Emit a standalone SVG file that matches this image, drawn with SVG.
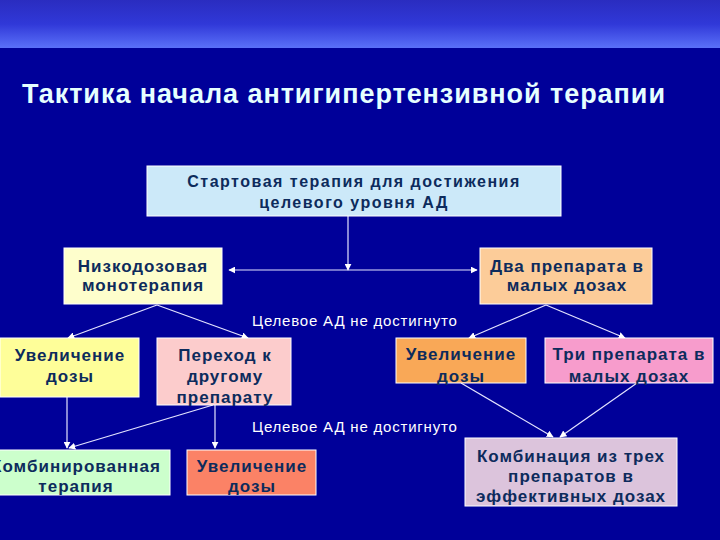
<svg xmlns="http://www.w3.org/2000/svg" width="720" height="540" viewBox="0 0 720 540">
<defs>
<linearGradient id="band" x1="0" y1="0" x2="0" y2="1">
<stop offset="0" stop-color="#2a2cc0"/>
<stop offset="0.5" stop-color="#3038d8"/>
<stop offset="1" stop-color="#5a70f8"/>
</linearGradient>
<marker id="ah" viewBox="0 0 10 10" refX="9" refY="5" markerWidth="7" markerHeight="7" markerUnits="userSpaceOnUse" orient="auto-start-reverse">
<path d="M0,0 L10,5 L0,10 z" fill="#ffffff"/>
</marker>
<style>
.box{stroke:#ffffff;stroke-width:1}
.t{font-family:"Liberation Sans",Arial,sans-serif;font-weight:bold;font-size:17px;letter-spacing:1px;fill:#0d2b5c;text-anchor:middle}
.lbl{font-family:"Liberation Sans",Arial,sans-serif;font-size:15px;letter-spacing:0.8px;fill:#ffffff}
.c{stroke:#e4e4ff;stroke-width:1.2;fill:none;marker-end:url(#ah)}
</style>
</defs>
<rect x="0" y="0" width="720" height="540" fill="#000099"/>
<rect x="0" y="0" width="720" height="48" fill="url(#band)"/>
<text x="22" y="103" font-family="'Liberation Sans',Arial,sans-serif" font-weight="bold" font-size="27px" letter-spacing="0.95px" fill="#e6ffff">Тактика начала антигипертензивной терапии</text>

<g id="connectors">
<line class="c" x1="348" y1="216" x2="348" y2="270"/>
<line class="c" x1="348" y1="270" x2="229" y2="270"/>
<line class="c" x1="348" y1="270" x2="477" y2="270"/>
<line class="c" x1="157" y1="305" x2="68" y2="338"/>
<line class="c" x1="157" y1="305" x2="248" y2="338"/>
<line class="c" x1="546" y1="305" x2="469" y2="338"/>
<line class="c" x1="546" y1="305" x2="625" y2="338"/>
<line class="c" x1="67" y1="397" x2="67" y2="448"/>
<line class="c" x1="213" y1="405" x2="69" y2="448"/>
<line class="c" x1="215" y1="405" x2="215" y2="448"/>
<line class="c" x1="461" y1="383" x2="553" y2="437"/>
<line class="c" x1="637" y1="383" x2="560" y2="437"/>
</g>

<text class="lbl" x="252" y="326">Целевое АД не достигнуто</text>
<text class="lbl" x="252" y="432">Целевое АД не достигнуто</text>

<g id="start">
<rect class="box" x="147" y="166" width="414" height="50" fill="#cce9f9"/>
<text class="t" style="font-size:16px;letter-spacing:1.5px" x="354" y="187">Стартовая терапия для достижения</text>
<text class="t" style="font-size:16px;letter-spacing:1.5px" x="354" y="208">целевого уровня АД</text>
</g>
<g id="lowdose">
<rect class="box" x="64" y="248" width="158" height="56" fill="#fefecc"/>
<text class="t" x="143" y="272">Низкодозовая</text>
<text class="t" x="143" y="291">монотерапия</text>
</g>
<g id="twodrugs">
<rect class="box" x="480" y="248" width="172" height="56" fill="#fccc99"/>
<text class="t" x="567" y="272">Два препарата в</text>
<text class="t" x="567" y="291">малых дозах</text>
</g>
<g id="increase1">
<rect class="box" x="0" y="338" width="139" height="59" fill="#fefe99"/>
<text class="t" x="70" y="361">Увеличение</text>
<text class="t" x="70" y="382">дозы</text>
</g>
<g id="switch">
<rect class="box" x="157" y="338" width="134" height="67" fill="#fccccc"/>
<text class="t" x="225" y="361">Переход к</text>
<text class="t" x="225" y="382">другому</text>
<text class="t" x="225" y="403">препарату</text>
</g>
<g id="increase2">
<rect class="box" x="396" y="338" width="130" height="45" fill="#f9a857"/>
<text class="t" x="461" y="360">Увеличение</text>
<text class="t" x="461" y="382">дозы</text>
</g>
<g id="threedrugs">
<rect class="box" x="545" y="338" width="168" height="45" fill="#f79ccc"/>
<text class="t" x="629" y="360">Три препарата в</text>
<text class="t" x="629" y="382">малых дозах</text>
</g>
<g id="combined">
<rect class="box" x="-12" y="450" width="182" height="45" fill="#ccffcc"/>
<text class="t" x="76" y="472">Комбинированная</text>
<text class="t" x="76" y="492">терапия</text>
</g>
<g id="increase3">
<rect class="box" x="187" y="450" width="129" height="45" fill="#fb8266"/>
<text class="t" x="252" y="472">Увеличение</text>
<text class="t" x="252" y="492">дозы</text>
</g>
<g id="combo3">
<rect class="box" x="465" y="438" width="212" height="68" fill="#dcc4dc"/>
<text class="t" x="571" y="462">Комбинация из трех</text>
<text class="t" x="571" y="482">препаратов в</text>
<text class="t" x="571" y="502">эффективных дозах</text>
</g>
</svg>
